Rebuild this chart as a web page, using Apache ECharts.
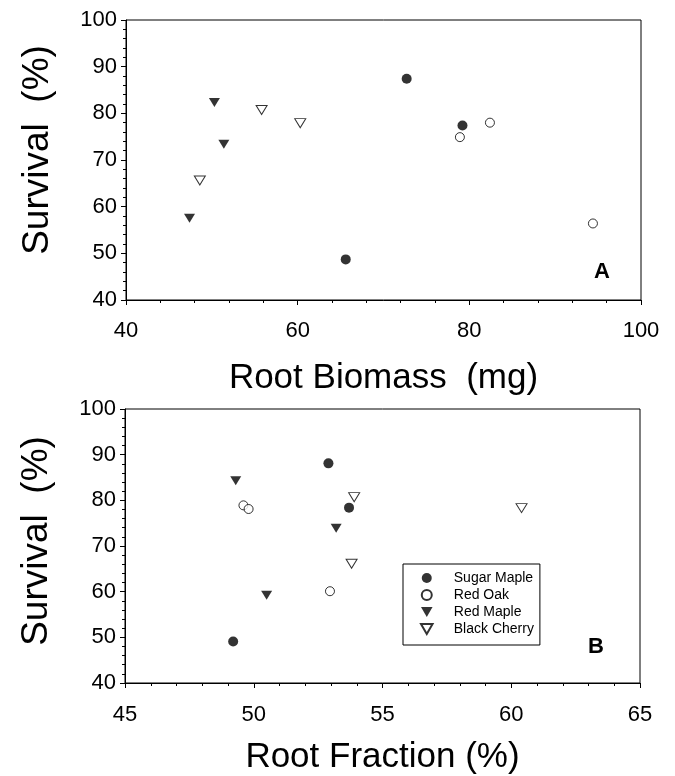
<!DOCTYPE html>
<html>
<head>
<meta charset="utf-8">
<script src="https://cdn.jsdelivr.net/npm/echarts@6/dist/echarts.min.js"></script>
<style>html,body{margin:0;padding:0;background:#fff}#c{width:675px;height:776px}</style>
</head>
<body>
<div id="c"></div>
<script>
// Panel A: Root biomass (mg) vs survival (%)
const seriesNames = ['Sugar Maple', 'Red Oak', 'Red Maple', 'Black Cherry'];
const biomassSugarMaple = [72.7, 79.2, 65.6];
const survivalA_SugarMaple = [87.4, 77.4, 48.7];
const biomassRedOak = [78.9, 82.4, 94.4];
const survivalA_RedOak = [74.9, 78.0, 56.4];
const biomassRedMaple = [50.3, 51.4, 47.4];
const survivalA_RedMaple = [82.3, 73.4, 57.5];
const biomassBlackCherry = [55.8, 60.3, 48.6];
const survivalA_BlackCherry = [80.7, 77.9, 65.6];
// Panel B: Root fraction (%) vs survival (%)
const fractionSugarMaple = [52.9, 53.7, 49.2];
const survivalB_SugarMaple = [88.1, 78.4, 49.1];
const fractionRedOak = [49.6, 49.8, 52.96];
const survivalB_RedOak = [78.9, 78.1, 60.1];
const fractionRedMaple = [49.3, 53.2, 50.5];
const survivalB_RedMaple = [84.3, 73.9, 59.2];
const fractionBlackCherry = [53.9, 53.8, 60.4];
const survivalB_BlackCherry = [80.7, 66.1, 78.3];

const FONT = "'Liberation Sans', Arial, Helvetica, sans-serif";
const zip = (xs, ys) => xs.map((x, i) => [x, ys[i]]);
const DOWN_TRI = 'path://M0,0L10,0L5,8.66Z';

const styles = {
  'Sugar Maple': { symbol: 'circle', symbolSize: 10, itemStyle: { color: '#000', borderColor: '#000', borderWidth: 0 } },
  'Red Oak': { symbol: 'circle', symbolSize: 9, itemStyle: { color: '#fff', borderColor: '#000', borderWidth: 1 } },
  'Red Maple': { symbol: DOWN_TRI, symbolSize: [11, 9], itemStyle: { color: '#000', borderColor: '#000', borderWidth: 0 } },
  'Black Cherry': { symbol: DOWN_TRI, symbolSize: [11, 9], itemStyle: { color: '#fff', borderColor: '#000', borderWidth: 1 } }
};

const dataA = {
  'Sugar Maple': zip(biomassSugarMaple, survivalA_SugarMaple),
  'Red Oak': zip(biomassRedOak, survivalA_RedOak),
  'Red Maple': zip(biomassRedMaple, survivalA_RedMaple),
  'Black Cherry': zip(biomassBlackCherry, survivalA_BlackCherry)
};
const dataB = {
  'Sugar Maple': zip(fractionSugarMaple, survivalB_SugarMaple),
  'Red Oak': zip(fractionRedOak, survivalB_RedOak),
  'Red Maple': zip(fractionRedMaple, survivalB_RedMaple),
  'Black Cherry': zip(fractionBlackCherry, survivalB_BlackCherry)
};

function axisCommon(extra) {
  return Object.assign({
    axisLine: { show: true, onZero: false, lineStyle: { color: '#000', width: 1 } },
    axisTick: { show: true, inside: false, length: 5, lineStyle: { color: '#000' } },
    minorTick: { show: true, splitNumber: 5, length: 3, lineStyle: { color: '#000' } },
    splitLine: { show: false },
    minorSplitLine: { show: false },
    axisLabel: { color: '#000', fontFamily: FONT, fontSize: 22 },
    nameTextStyle: { color: '#000', fontFamily: FONT, fontSize: 35 },
    nameLocation: 'middle'
  }, extra);
}

const series = [];
seriesNames.forEach(n => {
  series.push(Object.assign({ type: 'scatter', name: n, xAxisIndex: 0, yAxisIndex: 0, data: dataA[n], z: 3 }, JSON.parse(JSON.stringify(styles[n]))));
  series.push(Object.assign({ type: 'scatter', name: n, xAxisIndex: 1, yAxisIndex: 1, data: dataB[n], z: 3 }, JSON.parse(JSON.stringify(styles[n]))));
});

const chart = echarts.init(document.getElementById('c'), null, { renderer: 'canvas' });
chart.setOption({
  animation: false,
  backgroundColor: '#fff',
  grid: [
    { left: 126, right: 34, top: 20, height: 280, show: true, borderColor: '#000', borderWidth: 1, backgroundColor: 'transparent' },
    { left: 125, right: 35, top: 409, height: 277, show: true, borderColor: '#000', borderWidth: 1, backgroundColor: 'transparent' }
  ],
  xAxis: [
    axisCommon({ gridIndex: 0, type: 'value', min: 40, max: 100, interval: 20, name: 'Root Biomass  (mg)', nameGap: 61,
      axisLabel: { color: '#000', fontFamily: FONT, fontSize: 22, margin: 20 } }),
    axisCommon({ gridIndex: 1, type: 'value', min: 45, max: 65, interval: 5, name: 'Root Fraction (%)', nameGap: 57,
      axisLabel: { color: '#000', fontFamily: FONT, fontSize: 22, margin: 21 } })
  ],
  yAxis: [
    axisCommon({ gridIndex: 0, type: 'value', min: 40, max: 100, interval: 10, name: 'Survival  (%)', nameGap: 70,
      nameTextStyle: { color: '#000', fontFamily: FONT, fontSize: 37, padding: [0, 0, 0, 20] },
      axisLabel: { color: '#000', fontFamily: FONT, fontSize: 22, margin: 9 } }),
    axisCommon({ gridIndex: 1, type: 'value', min: 40, max: 100, interval: 10, name: 'Survival  (%)', nameGap: 70,
      nameTextStyle: { color: '#000', fontFamily: FONT, fontSize: 37, padding: [0, 0, 0, 10] },
      axisLabel: { color: '#000', fontFamily: FONT, fontSize: 22, margin: 9 } })
  ],
  legend: {
    show: true,
    orient: 'vertical',
    left: 403,
    top: 564,
    data: seriesNames,
    itemWidth: 44,
    itemHeight: 10,
    itemGap: 3,
    padding: [7, 6, 9, 17],
    borderColor: '#000',
    borderWidth: 1,
    backgroundColor: '#fff',
    selectedMode: false,
    textStyle: { color: '#000', fontFamily: FONT, fontSize: 14, lineHeight: 14 }
  },
  graphic: [
    { type: 'text', left: 594, top: 261, style: { text: 'A', font: "bold 22px 'Liberation Sans', Arial", fill: '#000' } },
    { type: 'text', left: 588, top: 636, style: { text: 'B', font: "bold 22px 'Liberation Sans', Arial", fill: '#000' } }
  ],
  series: series
});
</script>
</body>
</html>
